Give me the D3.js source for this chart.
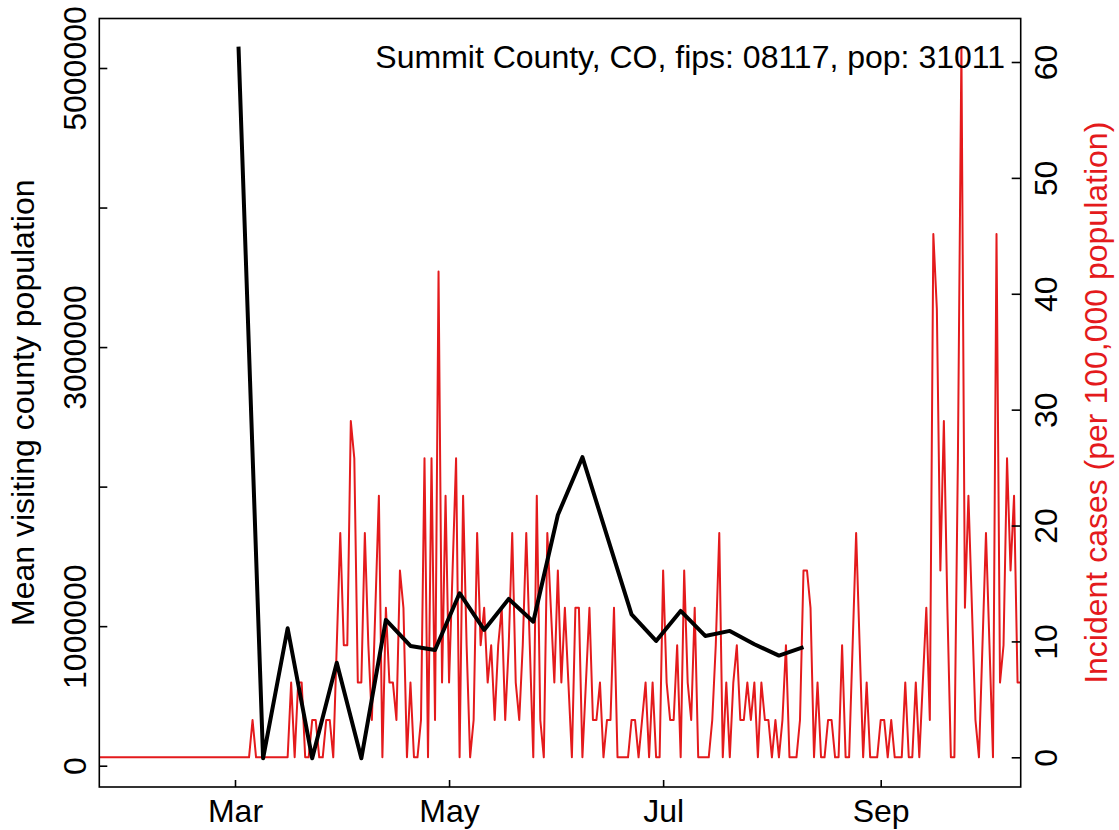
<!DOCTYPE html>
<html><head><meta charset="utf-8">
<script src="https://cdn.jsdelivr.net/npm/d3@7"></script>
<style>
body{margin:0;background:#fff}
svg{display:block}
text{font-family:"Liberation Sans",Arial,Helvetica,sans-serif}
</style>
</head><body><svg id="c" width="1119" height="830"></svg>
<script>
// ---------------- data ----------------
const titleText = "Summit County, CO, fips: 08117, pop: 31011";
const leftAxisTitle = "Mean visiting county population";
const rightAxisTitle = "Incident cases (per 100,000 population)";

const incidentStart = "2020-01-22";
const incidentJan = [0,0,0,0,0,0,0,0,0,0];
const incidentFeb = [0,0,0,0,0,0,0,0,0,0,0,0,0,0,0,0,0,0,0,0,0,0,0,0,0,0,0,0,0];
const incidentMar = [0,0,0,0,0,3.22,0,0,0,0,0,0,0,0,0,0,6.45,0,6.45,6.45,0,0,3.22,3.22,0,0,3.22,3.22,0,9.67,19.35];
const incidentApr = [9.67,9.67,29.02,25.8,6.45,6.45,19.35,9.67,3.22,12.9,22.57,0,12.9,6.45,6.45,3.22,16.12,12.9,0,6.45,0,0,3.22,25.8,0,25.8,3.22,41.92,6.45,22.57];
const incidentMay = [6.45,16.12,25.8,0,22.57,9.67,0,3.22,19.35,9.67,12.9,6.45,9.67,3.22,9.67,12.9,3.22,9.67,19.35,6.45,3.22,9.67,19.35,9.67,0,22.57,3.22,0,19.35,12.9,6.45];
const incidentJun = [16.12,6.45,12.9,6.45,0,12.9,12.9,0,6.45,12.9,3.22,3.22,6.45,0,3.22,3.22,12.9,0,0,0,0,3.22,3.22,0,3.22,6.45,0,6.45,0,0];
const incidentJul = [16.12,6.45,3.22,3.22,9.67,0,16.12,6.45,3.22,12.9,0,0,0,0,3.22,9.67,19.35,0,6.45,0,6.45,9.67,3.22,3.22,6.45,3.22,6.45,0,6.45,3.22,3.22];
const incidentAug = [0,3.22,0,3.22,9.67,0,0,0,3.22,16.12,16.12,12.9,0,6.45,0,0,3.22,3.22,0,0,9.67,0,0,9.67,19.35,9.67,0,6.45,0,0,0];
const incidentSep = [3.22,3.22,0,3.22,0,0,0,6.45,0,0,6.45,0,6.45,12.9,3.22,45.15,38.7,16.12,29.02,12.9,0,0,25.8,61.27,12.9,22.57,12.9,3.22,0,9.67];
const incidentOct = [19.35,9.67,0,45.15,6.45,9.67,25.8,16.12,22.57,6.45,6.45];

const visitDates = ["2020-03-02","2020-03-09","2020-03-16","2020-03-23","2020-03-30","2020-04-06","2020-04-13","2020-04-20","2020-04-27","2020-05-04","2020-05-11","2020-05-18","2020-05-25","2020-06-01","2020-06-08","2020-06-22","2020-06-29","2020-07-06","2020-07-13","2020-07-20","2020-07-27","2020-08-03","2020-08-10"];
const visitValues = [5153000,53000,985000,53000,738000,53000,1045000,858000,829000,1236000,973000,1195000,1032000,1797000,2211000,1085000,894000,1109000,930000,966000,870000,789000,849000];

const xDomain = ["2020-01-22","2020-10-11"];
const xTickDates = ["2020-03-01","2020-05-01","2020-07-01","2020-09-01"];
const xTickLabels = ["Mar","May","Jul","Sep"];
const leftTickValues = [0,1000000,2000000,3000000,4000000,5000000];
const leftTickLabels = ["0","1000000","","3000000","","5000000"];
const rightTickValues = [0,10,20,30,40,50,60];
const rightTickLabels = ["0","10","20","30","40","50","60"];

// ---------------- chart ----------------
const parse = d3.timeParse("%Y-%m-%d");
const svg = d3.select("#c");
svg.append("rect").attr("width",1119).attr("height",830).attr("fill","#fff");

const box = {l:99.3, r:1020.7, t:18.5, b:787};
const RED = "#E41A1C";
const FS = 32;

const x = d3.scaleTime().domain(xDomain.map(parse)).range([98.14, 1021.07]);
const yL = d3.scaleLinear().domain([0,5000000]).range([765.7, 68]);
const yR = d3.scaleLinear().domain([0,60]).range([757.3, 62]);

svg.append("clipPath").attr("id","clip").append("rect")
  .attr("x",box.l).attr("y",box.t).attr("width",box.r-box.l).attr("height",box.b-box.t);

const incidentValues = [].concat(incidentJan,incidentFeb,incidentMar,incidentApr,incidentMay,incidentJun,incidentJul,incidentAug,incidentSep,incidentOct);
const start = parse(incidentStart);
const incident = incidentValues.map((v,i)=>({date:d3.timeDay.offset(start,i), v}));
const visits = visitDates.map((d,i)=>({date:parse(d), v:visitValues[i]}));

const plot = svg.append("g").attr("clip-path","url(#clip)");
plot.append("path").datum(incident)
  .attr("fill","none").attr("stroke",RED).attr("stroke-width",2).attr("stroke-linejoin","round")
  .attr("d", d3.line().x(d=>x(d.date)).y(d=>yR(d.v)));
plot.append("path").datum(visits)
  .attr("fill","none").attr("stroke","#000").attr("stroke-width",4).attr("stroke-linejoin","round")
  .attr("d", d3.line().x(d=>x(d.date)).y(d=>yL(d.v)));

// box
svg.append("rect").attr("x",box.l).attr("y",box.t).attr("width",box.r-box.l).attr("height",box.b-box.t)
  .attr("fill","none").attr("stroke","#000").attr("stroke-width",1.6);

// left axis
const gL = svg.append("g").attr("transform",`translate(${box.l},0)`)
  .call(d3.axisLeft(yL).tickValues(leftTickValues).tickSize(-8).tickFormat((d,i)=>leftTickLabels[i]));
gL.select(".domain").remove();
gL.selectAll(".tick line").attr("stroke","#000").attr("stroke-width",1.6);
gL.selectAll(".tick text").attr("x",null).attr("dy",null).attr("y",null)
  .attr("transform","translate(-13.8,0) rotate(-90)").attr("text-anchor","middle")
  .attr("font-size",FS).attr("fill","#000").attr("font-family",null);

// right axis
const gR = svg.append("g").attr("transform",`translate(${box.r},0)`)
  .call(d3.axisRight(yR).tickValues(rightTickValues).tickSize(-9).tickFormat((d,i)=>rightTickLabels[i]));
gR.select(".domain").remove();
gR.selectAll(".tick line").attr("stroke","#000").attr("stroke-width",1.6);
gR.selectAll(".tick text").attr("x",null).attr("dy",null).attr("y",null)
  .attr("transform","translate(36.5,0) rotate(-90)").attr("text-anchor","middle")
  .attr("font-size",FS).attr("fill","#000").attr("font-family",null);

// bottom axis
const gB = svg.append("g").attr("transform",`translate(0,${box.b})`)
  .call(d3.axisBottom(x).tickValues(xTickDates.map(parse)).tickSize(-7).tickFormat((d,i)=>xTickLabels[i]));
gB.select(".domain").remove();
gB.selectAll(".tick line").attr("stroke","#000").attr("stroke-width",1.6);
gB.selectAll(".tick text").attr("dy",null).attr("y",35)
  .attr("font-size",FS).attr("fill","#000").attr("font-family",null);

// axis titles
svg.append("text").attr("transform",`translate(34,${(box.t+box.b)/2}) rotate(-90)`)
  .attr("text-anchor","middle").attr("font-size",FS).attr("fill","#000").text(leftAxisTitle);
svg.append("text").attr("transform",`translate(1107,${(box.t+box.b)/2}) rotate(-90)`)
  .attr("text-anchor","middle").attr("font-size",FS).attr("fill",RED).text(rightAxisTitle);

// title (legend-like text)
svg.append("text").attr("x",1005).attr("y",68.3).attr("text-anchor","end")
  .attr("font-size",FS).attr("fill","#000").text(titleText);
</script>
</body></html>
